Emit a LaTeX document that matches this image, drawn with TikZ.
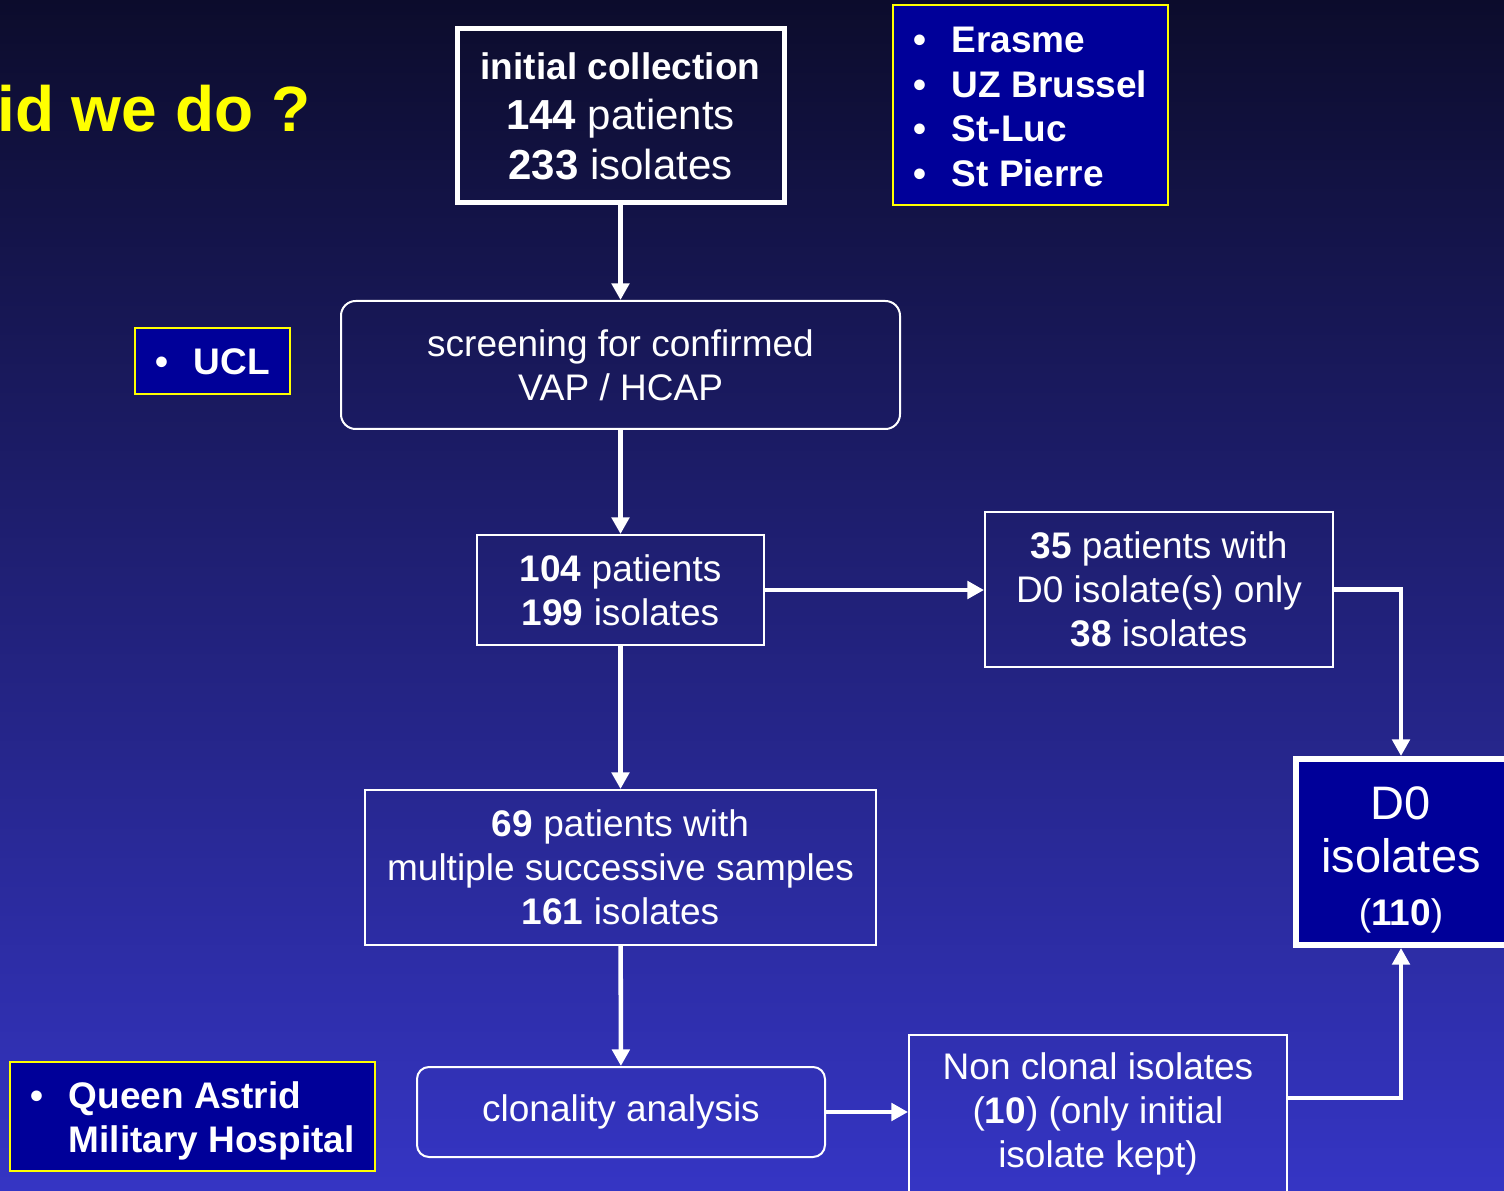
\documentclass[tikz,border=0pt]{standalone}
\usepackage{fontspec}
\setmainfont{Liberation Sans}
\usetikzlibrary{arrows.meta,fit,calc}
\definecolor{bgtop}{RGB}{12,12,44}
\definecolor{bgbot}{RGB}{53,53,196}
\definecolor{boxblue}{RGB}{0,0,153}
\definecolor{ylw}{RGB}{255,255,0}
\newcommand{\myA}{\fontsize{27.75pt}{33pt}\selectfont}
\newcommand{\myB}{\fontsize{31.5pt}{37.5pt}\selectfont}
\newcommand{\myD}{\fontsize{35.25pt}{40pt}\selectfont}
\newcommand{\myL}{\fontsize{27.75pt}{33.5pt}\selectfont\bfseries}
\newcommand{\bul}{\makebox[28.5pt][l]{•}}
\tikzset{
  flowbox/.style={draw=white, line width=1.5pt, inner sep=0pt, text=white, align=center, font=\myA},
  ylwbox/.style={draw=ylw, fill=boxblue, line width=1.5pt, inner sep=0pt},
  listtext/.style={text=white, align=left, inner sep=0pt, font=\myL, anchor=west},
  arr/.style={draw=white, line width=3.4pt, -{Triangle[width=13pt,length=12.5pt]}},
}
\begin{document}
\begin{tikzpicture}[x=0.75pt,y=-0.75pt]
\useasboundingbox (0,0) rectangle (1504,1191);
\clip (0,0) rectangle (1504,1191);
\fill[top color=bgtop,bottom color=bgbot] (0,0) rectangle (1504,1191);

% title
\node[anchor=base west, inner sep=0pt, text=ylw, font=\fontsize{48pt}{56pt}\selectfont\bfseries] (title) at (-3,132) {id we do ?};

% yellow hospital boxes
\node[ylwbox, fit={(893,5)(1168,205)}] (erbox) {};
\node[listtext] (erlist) at (913.5,107) {\bul Erasme\\\bul UZ Brussel\\\bul St-Luc\\\bul St Pierre};
\node[ylwbox, fit={(135,328)(290,394)}] (uclbox) {};
\node[listtext] (ucllist) at (155.5,362) {\bul UCL};
\node[ylwbox, fit={(10,1062)(375,1171)}] (qbox) {};
\node[listtext] (qlist) at (30.5,1121) {\bul Queen Astrid\\\hspace*{28.5pt}Military Hospital};

% flow boxes
\node[flowbox, line width=3.75pt, font=\myB, minimum width=245.25pt, minimum height=130.5pt] (init) at (620.5,116)
  {{\fontsize{27.75pt}{37.5pt}\selectfont\bfseries initial collection}\\\textbf{144} patients\\\textbf{233} isolates};
\node[flowbox, rounded corners=11pt, minimum width=419.25pt, minimum height=96pt] (screen) at (620.5,365)
  {screening for confirmed\\VAP / HCAP};
\node[flowbox, minimum width=215.25pt, minimum height=82.5pt] (n104) at (620.5,590)
  {\textbf{104} patients\\\textbf{199} isolates};
\node[flowbox, minimum width=261pt, minimum height=116.25pt] (n35) at (1159,589.5)
  {\textbf{35} patients with\\D0 isolate(s) only\\\textbf{38} isolates};
\node[flowbox, minimum width=383.25pt, minimum height=116.25pt] (n69) at (620.5,867.5)
  {\textbf{69} patients with\\multiple successive samples\\\textbf{161} isolates};
\node[flowbox, rounded corners=9pt, minimum width=306pt, minimum height=67.5pt] (clon) at (621,1112)
  {clonality analysis};
\node[flowbox, minimum width=283.5pt, minimum height=118.5pt] (nc) at (1098,1114)
  {Non clonal isolates\\(\textbf{10}) (only initial\\isolate kept)};
\node[draw=white, fill=boxblue, line width=4.5pt, inner sep=0pt, fit={(1296,759)(1512,945)}] (d0) {};
\node[text=white, align=center, inner sep=0pt, font=\myD] (d0text) at (1401,860)
  {D0\\isolates\\{\myA(\textbf{110})}};

% connectors
\draw[arr] (init) -- (screen);
\draw[arr] (screen) -- (n104);
\draw[arr] (n104.east) -- (n104.east -| n35.west);
\draw[arr] (n104) -- (n69);
\draw[arr] (n69) -- (clon);
\draw[arr] (clon.east) -- (clon.east -| nc.west);
\draw[arr] (n35.east) -| (d0text |- d0.north);
\draw[arr] ($(nc.east)+(0,-16)$) -| (d0text |- d0.south);
\end{tikzpicture}
\end{document}
